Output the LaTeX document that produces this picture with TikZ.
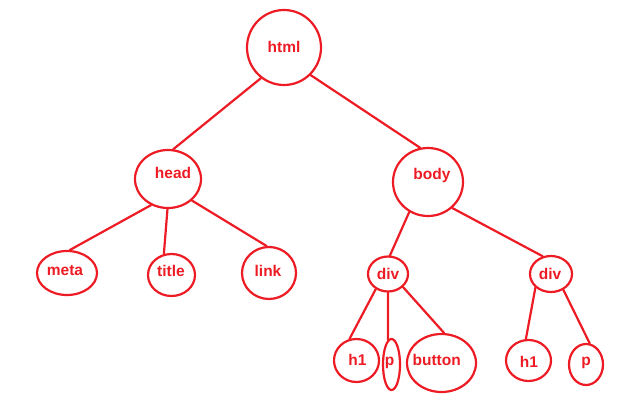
\documentclass[tikz,border=0pt]{standalone}
\usepackage{fontspec}
\setmainfont{Liberation Sans}
\usetikzlibrary{shapes.geometric}
\definecolor{paintred}{RGB}{237,28,36}
\tikzset{
  tag/.style={draw=paintred, line width=2.2pt, ellipse, inner sep=0pt,
    minimum width=#1},
  lbl/.style={text=paintred, inner sep=0pt,
    font=\fontsize{15.5}{18}\selectfont\bfseries},
  edge/.style={draw=paintred, line width=2.2pt, line cap=round}
}
\begin{document}
\begin{tikzpicture}[x=1pt,y=-1pt]
\useasboundingbox (0,0) rectangle (621,405);

% element outlines (hand-drawn ellipses of varying size)
\node[tag=74pt, minimum height=75pt] (html)  at (284,47.5) {};
\node[tag=66pt, minimum height=58pt] (head)  at (168,179) {};
\node[tag=70pt, minimum height=68pt] (body)  at (428,182) {};
\node[tag=60pt, minimum height=44pt] (meta)  at (67,273) {};
\node[tag=47pt, minimum height=42pt] (title) at (171.5,275) {};
\node[tag=54pt, minimum height=52pt] (link)  at (269,273) {};
\node[tag=40pt, minimum height=35pt] (divA)  at (388,274) {};
\node[tag=42pt, minimum height=36pt] (divB)  at (551,274) {};
\node[tag=45pt, minimum height=43pt] (hA)    at (356.5,360.5) {};
\node[tag=17pt, minimum height=51pt] (pA)    at (391.5,364.5) {};
\node[tag=69pt, minimum height=58pt] (btn)   at (441.5,363) {};
\node[tag=45pt, minimum height=41pt] (hB)    at (528.5,360.5) {};
\node[tag=34pt, minimum height=41pt] (pB)    at (586,364.5) {};

% tag names
\node[lbl] (html-t)  at (284,46.7)  {html};
\node[lbl] (head-t)  at (173,172.5) {head};
\node[lbl] (body-t)  at (432,175.5) {body};
\node[lbl] (meta-t)  at (65,271)    {meta};
\node[lbl] (title-t) at (171,270.7) {title};
\node[lbl] (link-t)  at (268,270.7) {link};
\node[lbl] (divA-t)  at (388,273.8) {div};
\node[lbl] (divB-t)  at (550,273.8) {div};
\node[lbl] (hA-t)    at (357.5,360.3) {h1};
\node[lbl] (pA-t)    at (389.5,363.3) {p};
\node[lbl] (btn-t)   at (436.7,360.3) {button};
\node[lbl] (hB-t)    at (529,362)   {h1};
\node[lbl] (pB-t)    at (586,363)   {p};

% tree edges
\draw[edge] (html.-127) -- (head.80);
\draw[edge] (html.-46.6) -- (body.103);
\draw[edge] (head.-123) -- (meta.83);
\draw[edge] (head.-91) -- (title.110);
\draw[edge] (head.-42) -- (link.95);
\draw[edge] (body.-122) -- (divA.84);
\draw[edge] (body.-47) -- (divB.115);
\draw[edge] (divA.-129) -- (hA.108);
\draw[edge] (divA.-90) -- (pA.98);
\draw[edge] (divA.-41) -- (btn.85);
\draw[edge] (divB.-139) -- (hB.97);
\draw[edge] (divB.-52) -- (pB.80);
\end{tikzpicture}
\end{document}
